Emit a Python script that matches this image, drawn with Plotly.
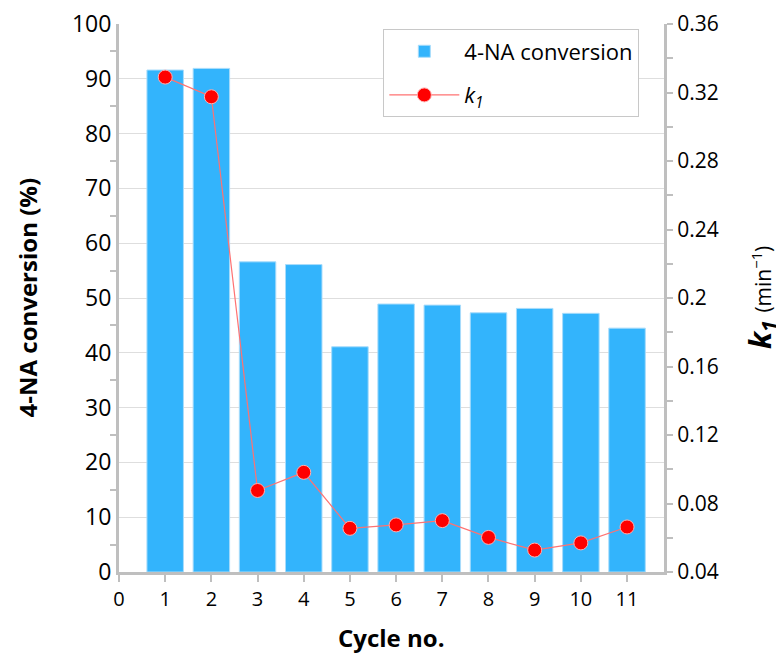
import plotly.graph_objects as go

cycles = [1, 2, 3, 4, 5, 6, 7, 8, 9, 10, 11]
conversion = [91.6, 91.9, 56.6, 56.1, 41.1, 48.9, 48.7, 47.3, 48.1, 47.2, 44.5]
k1 = [0.329, 0.3175, 0.0876, 0.0982, 0.0655, 0.0675, 0.0700, 0.0602, 0.0528, 0.0570, 0.0663]
x_ticks = list(range(0, 12))
left_ticks = list(range(0, 101, 10))
right_ticks = [0.04, 0.08, 0.12, 0.16, 0.2, 0.24, 0.28, 0.32, 0.36]
right_tick_labels = ["0.04", "0.08", "0.12", "0.16", "0.2", "0.24", "0.28", "0.32", "0.36"]

FONT = "Open Sans"
AX = "#bfbfbf"

fig = go.Figure()
fig.add_trace(go.Bar(
    x=cycles, y=conversion, name="4-NA conversion", width=0.79,
    marker=dict(color="#33b4fc", line=dict(color="#a8dcfb", width=1)),
    yaxis="y", legendgroup="a",
))
fig.add_trace(go.Scatter(
    x=cycles, y=k1, name="<i>k<sub>1</sub></i>", mode="lines+markers",
    line=dict(color="#ff7272", width=1.2),
    marker=dict(color="#ff0000", size=14, line=dict(color="#ffb0b0", width=1)),
    yaxis="y2", legendgroup="b",
))

# page body has an 8px default margin, so the figure is sized to fit the window
fig.update_layout(
    width=776, height=661,
    margin=dict(l=111, r=120, t=16, b=97, autoexpand=False),
    paper_bgcolor="white", plot_bgcolor="white",
    font=dict(family=FONT, size=18, color="black"),
    showlegend=True,
    legend=dict(x=0.485, y=0.99, xanchor="left", yanchor="top",
                bgcolor="white", bordercolor="#c8c8c8", borderwidth=1,
                font=dict(size=22, family=FONT), tracegroupgap=12,
                itemwidth=70),
    xaxis=dict(range=[0, 11.8], tickvals=x_ticks, ticktext=[str(v) for v in x_ticks],
               showline=True, linecolor=AX, linewidth=2.5, ticks="outside",
               tickcolor=AX, ticklen=7, tickwidth=2, showgrid=False, zeroline=False,
               tickfont=dict(size=20), automargin=False, ticklabeloverflow="allow"),
    yaxis=dict(range=[0, 100], tickvals=left_ticks, showline=True, linecolor=AX,
               linewidth=3, ticks="", showgrid=True, gridcolor="#dedede",
               gridwidth=1, zeroline=False, tickfont=dict(size=23), automargin=False,
               ticklabeloverflow="allow",
               minor=dict(tickvals=list(range(5, 100, 10)), ticks="outside",
                          ticklen=6, tickcolor=AX, tickwidth=2, showgrid=False)),
    yaxis2=dict(range=[0.04, 0.36], tickvals=right_ticks, ticktext=right_tick_labels,
                overlaying="y", side="right", showline=True, linecolor=AX,
                linewidth=3, ticks="outside", ticklen=6, tickcolor=AX, tickwidth=2,
                showgrid=False, zeroline=False, tickfont=dict(size=21), automargin=False,
                ticklabeloverflow="allow",
                minor=dict(tickvals=[0.06, 0.10, 0.14, 0.18, 0.22, 0.26, 0.30, 0.34],
                           ticks="outside", ticklen=6, tickcolor=AX, tickwidth=2,
                           showgrid=False)),
    bargap=0.2,
)

fig.add_annotation(text="<b>4-NA conversion (%)</b>", xref="paper", yref="paper",
                   x=-0.168, y=0.5, textangle=-90, showarrow=False,
                   font=dict(size=24, family=FONT), xanchor="center", yanchor="middle")
fig.add_annotation(text="<b><i>k<sub>1</sub></i></b> <span style='font-size:21px'>(min<sup>\u22121</sup>)</span>",
                   xref="paper", yref="paper", x=1.178, y=0.5, textangle=-90,
                   showarrow=False, font=dict(size=30, family=FONT),
                   xanchor="center", yanchor="middle")
fig.add_annotation(text="<b>Cycle no.</b>", xref="paper", yref="paper",
                   x=0.5, y=-0.12, showarrow=False,
                   font=dict(size=24, family=FONT), xanchor="center", yanchor="middle")

fig.write_html("out.html")
